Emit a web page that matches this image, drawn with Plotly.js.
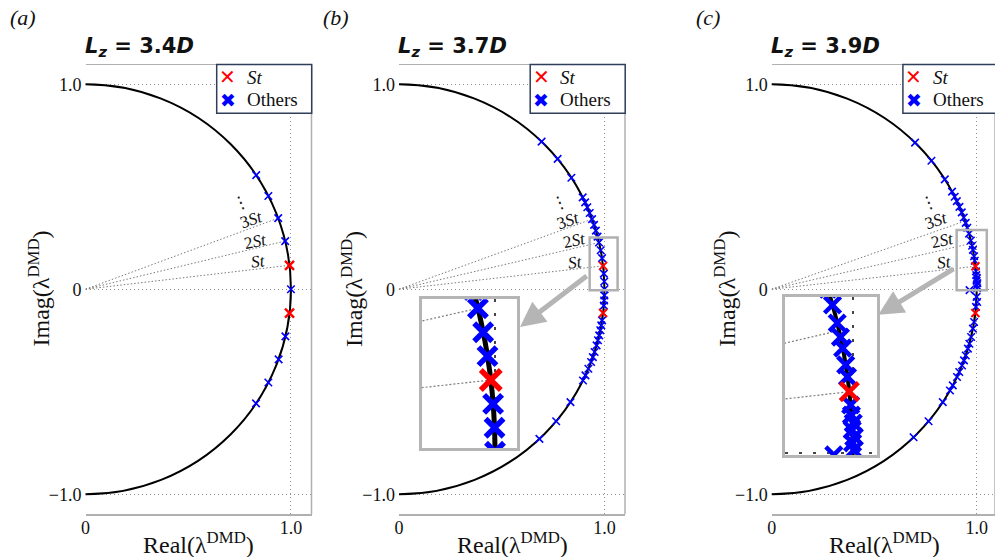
<!DOCTYPE html>
<html><head><meta charset="utf-8">
<script src="https://cdn.plot.ly/plotly-3.0.1.min.js"></script>
<style>html,body{margin:0;padding:0;background:#fff}#chart{width:995px;height:557px}</style>
</head><body><div id="chart"></div><script>
// ---------------- DATA ----------------
const panelLetters = ['(a)', '(b)', '(c)'];
const lzValues = ['3.4', '3.7', '3.9'];
const xTickVals = [0, 1];
const xTickText = ['0', '1.0'];
const yTickVals = [-1, 0, 1];
const yTickText = ['\u22121.0', '0', '1.0'];
const harmonicNames = ['<i>St</i>', '2<i>St</i>', '3<i>St</i>'];
const seriesNames = ['<i>St</i>', 'Others'];

// Panel (a) Lz = 3.4D
const aStRe = [0.993, 0.993];
const aStIm = [0.117, -0.117];
const aOthRe = [1.000, 0.972, 0.938, 0.890, 0.831, 0.973, 0.940, 0.890, 0.830];
const aOthIm = [0.000, 0.235, 0.347, 0.455, 0.557, -0.230, -0.342, -0.455, -0.557];
const aHarmRe = [0.993, 0.972, 0.938];
const aHarmIm = [0.117, 0.235, 0.347];

// Panel (b) Lz = 3.7D
const bStRe = [0.9935, 0.9933];
const bStIm = [0.114, -0.116];
const bOthRe = [0.694, 0.772, 0.839, 0.894, 0.906, 0.9165, 0.9282, 0.9397, 0.9494, 0.9582, 0.9664, 0.9737, 0.9818, 0.9884, 0.9971, 0.9993, 1.000,
                0.9995, 0.9985, 0.9968, 0.9884, 0.9844, 0.9798, 0.9744, 0.9685, 0.9617, 0.9520, 0.9436, 0.9349, 0.9217, 0.9075, 0.8955, 0.8345, 0.7650, 0.6834];
const bOthIm = [0.720, 0.636, 0.544, 0.448, 0.424, 0.400, 0.372, 0.342, 0.314, 0.286, 0.257, 0.228, 0.190, 0.152, 0.076, 0.038, 0.000,
                -0.030, -0.055, -0.080, -0.152, -0.176, -0.200, -0.225, -0.249, -0.274, -0.306, -0.331, -0.355, -0.388, -0.420, -0.445, -0.551, -0.644, -0.730];
const bHarmRe = [0.9935, 0.9737, 0.9397];
const bHarmIm = [0.114, 0.228, 0.342];

// Panel (c) Lz = 3.9D
const cStRe = [0.9937, 0.9933];
const cStIm = [0.112, -0.116];
const cOthRe = [0.6991, 0.7790, 0.8442, 0.8794, 0.8925, 0.9028, 0.9156, 0.9270, 0.9367, 0.9461, 0.9539, 0.9626, 0.9713, 0.9773, 0.9814, 0.9870, 0.9903,
                0.9962, 0.9976, 1.0010, 0.9991, 1.0030, 0.9998, 1.0020, 0.965,
                0.9993, 1.0020, 0.9963, 0.9871, 0.9814, 0.9725, 0.9640, 0.9570, 0.9464, 0.9379, 0.9282, 0.9148, 0.9038, 0.8832, 0.8695, 0.8345, 0.7650, 0.6919];
const cOthIm = [0.715, 0.627, 0.536, 0.476, 0.451, 0.430, 0.402, 0.375, 0.350, 0.324, 0.300, 0.271, 0.238, 0.212, 0.192, 0.161, 0.139,
                0.0875, 0.069, 0.0545, 0.0417, 0.029, 0.018, 0.005, -0.004,
                -0.037, -0.062, -0.086, -0.160, -0.192, -0.233, -0.266, -0.290, -0.323, -0.347, -0.372, -0.404, -0.428, -0.469, -0.494, -0.551, -0.644, -0.722];
const cHarmRe = [0.9937, 0.9746, 0.9430];
const cHarmIm = [0.112, 0.224, 0.333];

// ---------------- LAYOUT HELPERS ----------------
const W = 995, H = 557;
const px = v => v / W;
const py = v => 1 - v / H;
const SERIF = 'Liberation Serif, Times New Roman, serif';
const GRID_DOT = '1px,3px';

const panels = [
  {xl: 85.5, xr: 311.5, xmax: 1.1, st: [aStRe, aStIm], oth: [aOthRe, aOthIm], harm: [aHarmRe, aHarmIm],
   lab: [[0.841, 0.134, -7], [0.829, 0.235, -12], [0.808, 0.340, -19], [0.752, 0.422, -22]], stSize: 9, stW: 2.5},
  {xl: 399, xr: 625, xmax: 1.1, st: [bStRe, bStIm], oth: [bOthRe, bOthIm], harm: [bHarmRe, bHarmIm],
   lab: [[0.858, 0.130, -7], [0.853, 0.240, -12], [0.826, 0.333, -19], [0.781, 0.422, -22]], stSize: 8, stW: 2},
  {xl: 771.7, xr: 995, xmax: 1.089, st: [cStRe, cStIm], oth: [cOthRe, cOthIm], harm: [cHarmRe, cHarmIm],
   lab: [[0.842, 0.130, -7], [0.833, 0.238, -12], [0.806, 0.333, -19], [0.763, 0.422, -22]], stSize: 8, stW: 2}
];
const yTopPx = 65, yBotPx = 514.3;

function radial(re, im) {
  const xs = [], ys = [];
  for (let i = 0; i < re.length; i++) { xs.push(0, re[i], null); ys.push(0, im[i], null); }
  return [xs, ys];
}

const traces = [];
const layout = {
  width: W, height: H, margin: {l: 0, r: 0, t: 0, b: 0},
  paper_bgcolor: '#fff', plot_bgcolor: '#fff', showlegend: false,
  font: {family: SERIF, color: '#111'},
  shapes: [], annotations: []
};

panels.forEach((p, i) => {
  const s = i === 0 ? '' : String(i + 1);
  const xa = 'x' + s, ya = 'y' + s;
  const [rx, ry] = radial(p.harm[0], p.harm[1]);
  traces.push({x: rx, y: ry, xaxis: xa, yaxis: ya, mode: 'lines', hoverinfo: 'skip',
    line: {color: '#7a7a7a', width: 1, dash: '1.5px,2px'}});
  traces.push({x: p.oth[0], y: p.oth[1], xaxis: xa, yaxis: ya, mode: 'markers', name: seriesNames[1],
    marker: {symbol: 'x-thin', size: 7.5, color: '#0000ff', line: {color: '#0000ff', width: 1.6}}});
  traces.push({x: p.st[0], y: p.st[1], xaxis: xa, yaxis: ya, mode: 'markers', name: seriesNames[0],
    marker: {symbol: 'x-thin', size: p.stSize, color: '#ff0000', line: {color: '#ff0000', width: p.stW}}});

  layout['xaxis' + s] = {
    domain: [px(p.xl), px(Math.min(p.xr, W))], anchor: ya, range: [0, p.xmax], tickvals: xTickVals, ticktext: xTickText,
    showgrid: true, gridcolor: '#8f8f8f', griddash: GRID_DOT, gridwidth: 1, zeroline: false,
    showline: true, mirror: true, linecolor: '#b0b0b0', linewidth: 1.5, ticks: '', ticklabelstandoff: -3,
    tickfont: {family: SERIF, size: 18, color: '#111'}, fixedrange: true
  };
  layout['yaxis' + s] = {
    domain: [py(yBotPx), py(yTopPx)], anchor: xa, range: [-1.098, 1.094], tickvals: yTickVals, ticktext: yTickText,
    showgrid: true, gridcolor: '#8f8f8f', griddash: GRID_DOT, gridwidth: 1, zeroline: false,
    showline: false, ticks: '', ticklabelstandoff: 3,
    tickfont: {family: SERIF, size: 18, color: '#111'}, fixedrange: true
  };
  // unit circle
  layout.shapes.push({type: 'circle', xref: xa, yref: ya, x0: -1, y0: -1, x1: 1, y1: 1, layer: 'between',
    line: {color: '#000', width: 2}});
  // right frame edge
  layout.shapes.push({type: 'line', xref: xa + ' domain', yref: ya + ' domain', x0: 1, x1: 1, y0: 0, y1: 1,
    line: {color: '#b0b0b0', width: 1.5}});
  // legend (box + entries)
  const lr = p.xl + 226.2, ll = lr - 95;
  layout.shapes.push({type: 'rect', xref: 'paper', yref: 'paper', x0: px(ll), x1: px(lr), y0: py(113.3), y1: py(64.5),
    fillcolor: '#fff', line: {color: '#2f3e5a', width: 1.5}, layer: 'above'});
  layout.annotations.push({xref: 'paper', yref: 'paper', x: px(ll + 11), y: py(77), xanchor: 'center', yanchor: 'middle',
    text: '\u2715', showarrow: false, font: {family: 'DejaVu Sans, sans-serif', size: 20, color: '#ff0000'}});
  layout.annotations.push({xref: 'paper', yref: 'paper', x: px(ll + 11), y: py(99.5), xanchor: 'center', yanchor: 'middle',
    text: '\u2716', showarrow: false, font: {family: 'DejaVu Sans, sans-serif', size: 19, color: '#0000ff'}});
  layout.annotations.push({xref: 'paper', yref: 'paper', x: px(ll + 28), y: py(77), xanchor: 'left', yanchor: 'middle',
    text: seriesNames[0], showarrow: false, font: {family: SERIF, size: 19, color: '#111'}});
  layout.annotations.push({xref: 'paper', yref: 'paper', x: px(ll + 28), y: py(99.5), xanchor: 'left', yanchor: 'middle',
    text: seriesNames[1], showarrow: false, font: {family: SERIF, size: 19, color: '#111'}});
  // harmonic labels
  const labs = harmonicNames.concat(['\u22ee']);
  p.lab.forEach((l, k) => {
    layout.annotations.push({xref: xa, yref: ya, x: l[0], y: l[1], text: labs[k], showarrow: false, textangle: l[2],
      font: {family: SERIF, size: 17, color: '#111'}});
  });
  // panel letter
  layout.annotations.push({xref: 'paper', yref: 'paper', x: px(p.xl - 78), y: py(18), xanchor: 'left', yanchor: 'middle',
    text: '<i>' + panelLetters[i] + '</i>', showarrow: false, font: {family: SERIF, size: 22, color: '#111'}});
  // panel title
  layout.annotations.push({xref: 'paper', yref: 'paper', x: px(p.xl - 3), y: py(47), xanchor: 'left', yanchor: 'middle',
    text: '<b><i>L</i><sub><i>z</i></sub> = ' + lzValues[i] + '<i>D</i></b>', showarrow: false,
    font: {family: 'DejaVu Sans, sans-serif', size: 21, color: '#111'}});
  // axis titles
  layout.annotations.push({xref: 'paper', yref: 'paper', x: px(p.xl - 47), y: py(289), xanchor: 'center', yanchor: 'middle',
    text: 'Imag(\u03bb<sup>DMD</sup>)', textangle: -90, showarrow: false, font: {family: SERIF, size: 24, color: '#111'}});
  layout.annotations.push({xref: 'paper', yref: 'paper', x: px(p.xl + 113), y: py(543), xanchor: 'center', yanchor: 'middle',
    text: 'Real(\u03bb<sup>DMD</sup>)', showarrow: false, font: {family: SERIF, size: 24, color: '#111'}});
});

// ---------------- INSETS ----------------
const insets = [
  {src: 1, s: '4', box: [421.7, 517.3, 299.3, 448.3], xr: [0.8872, 1.0343], yr: [0.0054, 0.2423], ytv: [],
   rect: [0.928, 1.064, -0.005, 0.253], arrow: [0.589, -0.184, 0.921, 0.07], msize: 18, mw: 5.5, lw: 5},
  {src: 2, s: '5', box: [785, 876.7, 296.7, 455], xr: [0.8746, 1.0444], yr: [-0.0042, 0.2862], ytv: [0],
   rect: [0.902, 1.049, -0.005, 0.289], arrow: [0.52, -0.125, 0.894, 0.104], msize: 16, mw: 4.5, lw: 4}
];
insets.forEach(ins => {
  const p = panels[ins.src];
  const xa = 'x' + ins.s, ya = 'y' + ins.s;
  const pxa = 'x' + (ins.src + 1), pya = 'y' + (ins.src + 1);
  const [rx, ry] = radial(p.harm[0].slice(0, 2), p.harm[1].slice(0, 2));
  traces.push({x: rx, y: ry, xaxis: xa, yaxis: ya, mode: 'lines', hoverinfo: 'skip',
    line: {color: '#7a7a7a', width: 1.2, dash: '2px,2px'}});
  traces.push({x: p.oth[0], y: p.oth[1], xaxis: xa, yaxis: ya, mode: 'markers',
    marker: {symbol: 'x-thin', size: ins.msize, color: '#0000ff', line: {color: '#0000ff', width: ins.mw}}});
  traces.push({x: p.st[0], y: p.st[1], xaxis: xa, yaxis: ya, mode: 'markers',
    marker: {symbol: 'x-thin', size: ins.msize + 2, color: '#ff0000', line: {color: '#ff0000', width: ins.mw}}});
  layout['xaxis' + ins.s] = {
    domain: [px(ins.box[0]), px(ins.box[1])], anchor: ya, range: ins.xr, tickvals: [1], showticklabels: false,
    showgrid: true, gridcolor: '#444', griddash: '3px,11px', gridwidth: 2, zeroline: false,
    showline: true, mirror: true, linecolor: '#b5b5b5', linewidth: 3, ticks: '', fixedrange: true
  };
  layout['yaxis' + ins.s] = {
    domain: [py(ins.box[3]), py(ins.box[2])], anchor: xa, range: ins.yr, tickvals: ins.ytv, showticklabels: false,
    showgrid: true, gridcolor: '#444', griddash: '3px,11px', gridwidth: 2, zeroline: false,
    showline: true, mirror: true, linecolor: '#b5b5b5', linewidth: 3, ticks: '', fixedrange: true
  };
  layout.shapes.push({type: 'circle', xref: xa, yref: ya, x0: -1, y0: -1, x1: 1, y1: 1, layer: 'between',
    line: {color: '#000', width: ins.lw}});
  layout.shapes.push({type: 'rect', xref: pxa, yref: pya, x0: ins.rect[0], x1: ins.rect[1], y0: ins.rect[2], y1: ins.rect[3],
    line: {color: '#b0b0b0', width: 2.5}});
  layout.annotations.push({xref: pxa, yref: pya, axref: pxa, ayref: pya, x: ins.arrow[0], y: ins.arrow[1],
    ax: ins.arrow[2], ay: ins.arrow[3], text: '', showarrow: true, arrowhead: 2, arrowsize: 1, arrowwidth: 5,
    arrowcolor: '#b5b5b5'});
});

Plotly.newPlot('chart', traces, layout, {staticPlot: true, displayModeBar: false});
</script></body></html>
